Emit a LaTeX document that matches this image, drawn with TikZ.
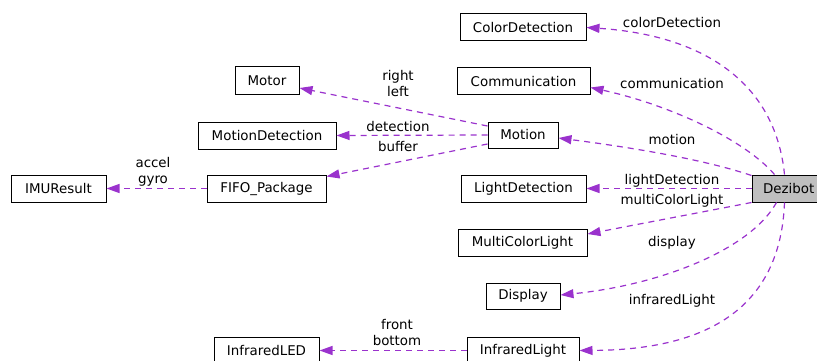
\documentclass[tikz,border=0pt]{standalone}
\usepackage{fontspec}
\setmainfont{DejaVu Sans}
\usetikzlibrary{arrows.meta,calc}
\definecolor{edgepurple}{HTML}{9A32CD}
\definecolor{focusgray}{HTML}{BFBFBF}
\tikzset{
  cls/.style={draw=black, line width=1pt, rectangle, inner sep=0pt,
    minimum height=27pt, font=\fontsize{13.4}{15}\selectfont},
  focus/.style={cls, fill=focusgray},
  uses/.style={draw=edgepurple, line width=1.2pt, dash pattern=on 6pt off 5pt,
    -{Triangle[length=13pt,width=9pt,fill=edgepurple,sep=0pt]}},
  lbl/.style={font=\fontsize{13.4}{16}\selectfont, inner sep=0pt, align=center}
}
\begin{document}
\begin{tikzpicture}[x=1pt,y=-1pt]
\useasboundingbox (0,0) rectangle (817,361);
\clip (0,0) rectangle (817,361);

% classes
\node[cls, minimum width=126pt] (color)  at (523,27.5)  {ColorDetection};
\node[cls, minimum width=133pt] (comm)   at (523.5,81.5) {Communication};
\node[cls, minimum width=70pt, minimum height=26pt] (motion) at (523,135) {Motion};
\node[cls, minimum width=125pt] (light)  at (523.5,188.5) {LightDetection};
\node[focus, minimum width=75pt, text width=75pt, align=left] (dezi) at (789.5,188.5) {\hspace{11pt}Dezibot};
\node[cls, minimum width=129pt] (multi)  at (522.5,242.5) {MultiColorLight};
\node[cls, minimum width=74pt, minimum height=26pt] (disp) at (523,296) {Display};
\node[cls, minimum width=112pt] (ired)   at (523,350.5) {InfraredLight};
\node[cls, minimum width=64pt, minimum height=28pt] (motor) at (267,81) {Motor};
\node[cls, minimum width=138pt] (mdet)   at (267,135.5) {MotionDetection};
\node[cls, minimum width=95pt]  (imu)    at (58.5,188.5) {IMUResult};
\node[cls, minimum width=119pt] (fifo)   at (266.5,188.5) {FIFO\_Package};
\node[cls, minimum width=105pt] (iled)   at (266.5,350.5) {InfraredLED};

% members of Dezibot
\draw[uses] ($(dezi.north west)+(33,0)$) .. controls (775,80) and (700,35) .. (color.east);
\draw[uses] ($(dezi.north west)+(23,0)$) .. controls (745,140) and (670,105) .. ($(comm.east)+(0,6)$);
\draw[uses] ($(dezi.north west)+(0,1)$) .. controls (700,158) and (620,146) .. ($(motion.east)+(0,3)$);
\draw[uses] (dezi.west) -- (light.east);
\draw[uses] (dezi.south west) -- ($(multi.east)+(0,-8.5)$);
\draw[uses] ($(dezi.south west)+(25,0)$) .. controls (750,250) and (660,285) .. ($(disp.east)+(0,-1)$);
\draw[uses] ($(dezi.south west)+(33,0)$) .. controls (780,320) and (690,350) .. (ired.east);

% members of Motion
\draw[uses] ($(motion.west)+(0,-9)$) -- ($(motor.east)+(0,7)$);
\draw[uses] (motion.west) -- (mdet.east);
\draw[uses] ($(motion.west)+(0,9)$) -- ($(fifo.north east)+(0,2)$);

% other members
\draw[uses] (fifo.west) -- (imu.east);
\draw[uses] (ired.west) -- (iled.east);

% member names
\node[lbl] (l1)  at (672,23)  {colorDetection};
\node[lbl] (l2)  at (672,84)  {communication};
\node[lbl] (l3)  at (672,140) {motion};
\node[lbl] (l4)  at (672,181) {lightDetection};
\node[lbl] (l5)  at (672,201) {multiColorLight};
\node[lbl] (l6)  at (672,243) {display};
\node[lbl] (l7)  at (672,301) {infraredLight};
\node[lbl] (l8)  at (398,84)  {right\\left};
\node[lbl] (l9)  at (398,127) {detection};
\node[lbl] (l10) at (398,147) {buffer};
\node[lbl] (l11) at (153,172) {accel\\gyro};
\node[lbl] (l12) at (397,333) {front\\bottom};
\end{tikzpicture}
\end{document}
